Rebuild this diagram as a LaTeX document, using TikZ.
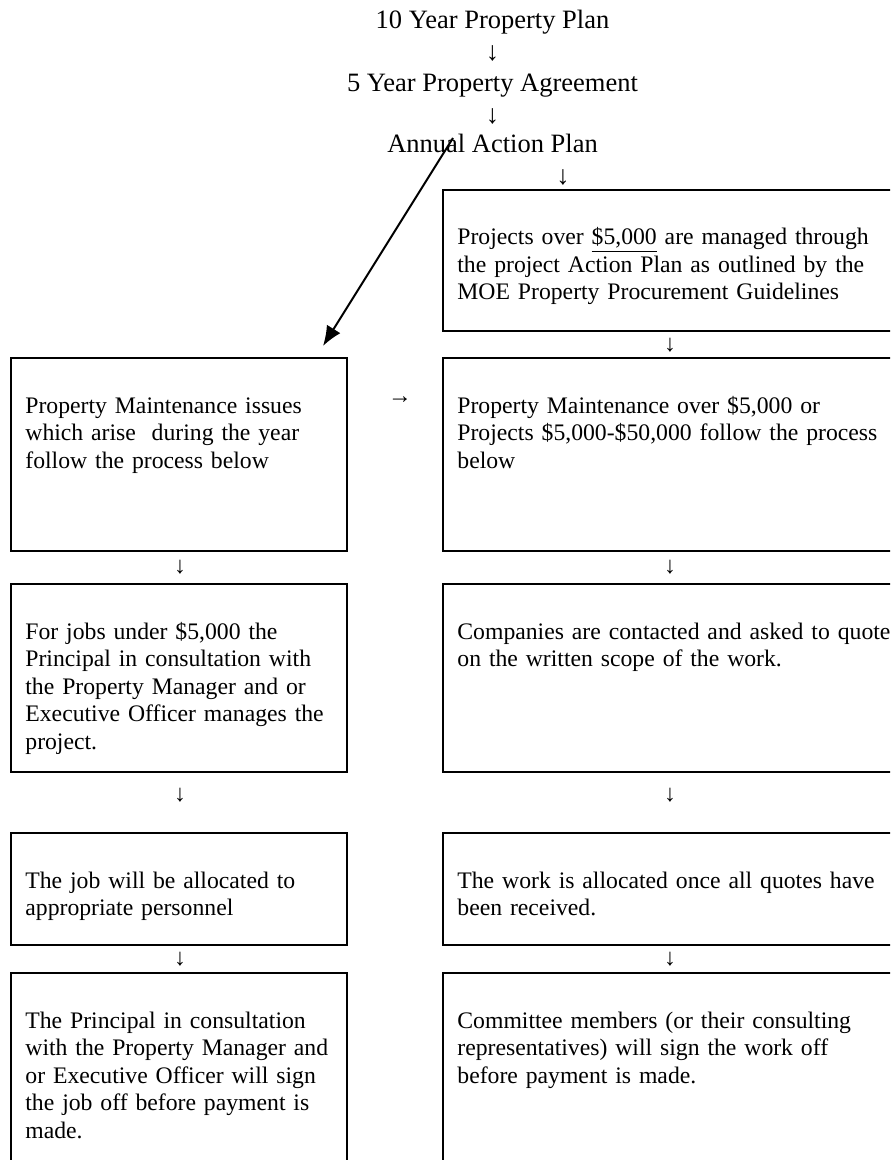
\documentclass[tikz,border=0pt]{standalone}
\usepackage{fontspec}
\setmainfont{Liberation Serif}
\usetikzlibrary{arrows.meta}
\begin{document}
\begin{tikzpicture}[x=0.5pt,y=-0.5pt,
  flowbox/.style={draw=black, line width=1pt, anchor=north west, inner sep=0pt, outer sep=0pt},
  lefttext/.style={anchor=base west, inner sep=0pt, align=left, text width=200pt, font=\fontsize{11.85}{13.75}\selectfont},
  righttext/.style={anchor=base west, inner sep=0pt, align=left, text width=225pt, font=\fontsize{11.85}{13.75}\selectfont},
  topline/.style={anchor=base, inner sep=0pt, font=\fontsize{13.25}{15.5}\selectfont},
  toparrow/.style={anchor=center, inner sep=0pt, font=\fontsize{13.25}{15.5}\selectfont},
  glypharrow/.style={anchor=center, inner sep=0pt, font=\fontsize{11.85}{13.75}\selectfont},
  diagarrow/.style={line width=1pt, -{Latex[length=10pt,width=8pt]}}
]
\useasboundingbox (0,0) rectangle (890,1160);
\clip (0,0) rectangle (890,1160);

% top sequence
\node[topline] (plan10) at (492.5,29) {10 Year Property Plan};
\node[toparrow] (a1) at (492.5,53) {↓};
\node[topline] (agree5) at (492.5,92) {5 Year Property Agreement};
\node[toparrow] (a2) at (492.5,116) {↓};
\node[topline] (annual) at (492.5,153) {Annual Action Plan};
\node[toparrow] (a3) at (563,177) {↓};

% right column boxes
\node[flowbox, minimum width=227pt, minimum height=70.5pt] (rb1) at (443,190) {};
\node[righttext] (rt1) at (457,245) {Projects over \underline{\$5,000} are managed through\\the project Action Plan as outlined by the\\MOE Property Procurement Guidelines};
\node[glypharrow] (ra1) at (670,345) {↓};

\node[flowbox, minimum width=168pt, minimum height=96.5pt] (lb1) at (11,358) {};
\node[lefttext] (lt1) at (25,413) {Property Maintenance issues\\which arise\ \ during the year\\follow the process below};
\node[glypharrow] (mid) at (400,400) {→};
\node[flowbox, minimum width=227pt, minimum height=96.5pt] (rb2) at (443,358) {};
\node[righttext] (rt2) at (457,413) {Property Maintenance over \$5,000 or\\Projects \$5,000-\$50,000 follow the process\\below};

\node[glypharrow] (la2) at (180,567) {↓};
\node[glypharrow] (ra2) at (670,567) {↓};

\node[flowbox, minimum width=168pt, minimum height=94pt] (lb2) at (11,584) {};
\node[lefttext] (lt2) at (25,639) {For jobs under \$5,000 the\\Principal in consultation with\\the Property Manager and or\\Executive Officer manages the\\project.};
\node[flowbox, minimum width=227pt, minimum height=94pt] (rb3) at (443,584) {};
\node[righttext] (rt3) at (457,639) {Companies are contacted and asked to quote\\on the written scope of the work.};

\node[glypharrow] (la3) at (180,795) {↓};
\node[glypharrow] (ra3) at (670,795) {↓};

\node[flowbox, minimum width=168pt, minimum height=56pt] (lb3) at (11,833) {};
\node[lefttext] (lt3) at (25,888) {The job will be allocated to\\appropriate personnel};
\node[flowbox, minimum width=227pt, minimum height=56pt] (rb4) at (443,833) {};
\node[righttext] (rt4) at (457,888) {The work is allocated once all quotes have\\been received.};

\node[glypharrow] (la4) at (180,959) {↓};
\node[glypharrow] (ra4) at (670,959) {↓};

\node[flowbox, minimum width=168pt, minimum height=110pt] (lb4) at (11,973) {};
\node[lefttext] (lt4) at (25,1028) {The Principal in consultation\\with the Property Manager and\\or Executive Officer will sign\\the job off before payment is\\made.};
\node[flowbox, minimum width=227pt, minimum height=110pt] (rb5) at (443,973) {};
\node[righttext] (rt5) at (457,1028) {Committee members (or their consulting\\representatives) will sign the work off\\before payment is made.};

% diagonal connector
\coordinate (dstart) at (453,138);
\coordinate (dend) at (323,346);
\draw[diagarrow] (dstart) -- (dend);
\end{tikzpicture}
\end{document}
